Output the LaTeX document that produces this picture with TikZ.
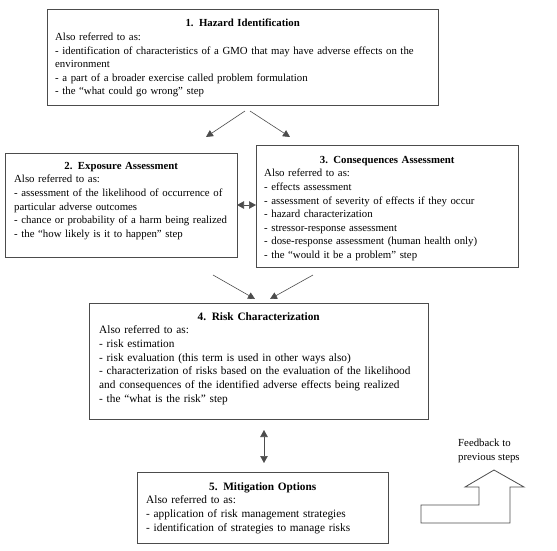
\documentclass[tikz,border=0pt]{standalone}
\usepackage{fontspec}
\setmainfont{Liberation Serif}
\usetikzlibrary{arrows.meta}
\begin{document}
\begin{tikzpicture}[x=1pt,y=-1pt,
 box/.style={draw=black!70, line width=0.8pt, inner sep=0pt, outer sep=0pt, anchor=north west},
 txt/.style={anchor=north west, inner sep=0pt, align=left, font=\fontsize{10.8}{13.6}\selectfont},
 txtb/.style={txt, font=\fontsize{11.3}{13.7}\selectfont},
 arr/.style={draw=black!70, line width=0.6pt, -{Triangle[length=7pt,width=7pt]}},
 darr/.style={draw=black!70, line width=0.6pt, {Triangle[length=7pt,width=7.5pt]}-{Triangle[length=7pt,width=7.5pt]}},
 fb/.style={draw=black!70, line width=0.8pt}]
\useasboundingbox (0,0) rectangle (557,550);
% boxes
\node[box, minimum width=391pt, minimum height=96pt] (b1) at (47,9) {};
\node[box, minimum width=232pt, minimum height=104pt] (b2) at (5,153) {};
\node[box, minimum width=262pt, minimum height=122pt] (b3) at (256,145) {};
\node[box, minimum width=339pt, minimum height=116pt] (b4) at (89,303) {};
\node[box, minimum width=251pt, minimum height=71pt] (b5) at (137,472) {};
% texts
\node[txt, text width=375pt] (t1) at (55,19) {{\centering\textbf{1. Hazard Identification}\par}
Also referred to as:\\
- identification of characteristics of a GMO that may have adverse effects on the\\
environment\\
- a part of a broader exercise called problem formulation\\
- the “what could go wrong” step};
\node[txt, text width=214pt] (t2) at (14,162) {{\centering\textbf{2. Exposure Assessment}\par}
Also referred to as:\\
- assessment of the likelihood of occurrence of\\
particular adverse outcomes\\
- chance or probability of a harm being realized\\
- the “how likely is it to happen” step};
\node[txt, text width=246pt] (t3) at (264,156) {{\centering\textbf{3. Consequences Assessment}\par}
Also referred to as:\\
- effects assessment\\
- assessment of severity of effects if they occur\\
- hazard characterization\\
- stressor-response assessment\\
- dose-response assessment (human health only)\\
- the “would it be a problem” step};
\node[txtb, text width=319pt] (t4) at (99,312) {{\centering\textbf{4. Risk Characterization}\par}
Also referred to as:\\
- risk estimation\\
- risk evaluation (this term is used in other ways also)\\
- characterization of risks based on the evaluation of the likelihood\\
and consequences of the identified adverse effects being realized\\
- the “what is the risk” step};
\node[txtb, text width=233pt] (t5) at (146,482) {{\centering\textbf{5. Mitigation Options}\par}
Also referred to as:\\
- application of risk management strategies\\
- identification of strategies to manage risks};
\node[txt] (fbt) at (458,439) {Feedback to\\previous steps};
% connectors
\coordinate (p1) at (245,111); \coordinate (p2) at (206,137);
\coordinate (p3) at (250,111); \coordinate (p4) at (290,137);
\draw[arr] (p1) -- (p2);
\draw[arr] (p3) -- (p4);
\draw[darr] (b2.east) -- (b3.west |- b2.east);
\coordinate (q1) at (213,275); \coordinate (q2) at (255,299);
\coordinate (q3) at (313,275); \coordinate (q4) at (270,299);
\draw[arr] (q1) -- (q2);
\draw[arr] (q3) -- (q4);
\coordinate (r1) at (264,430); \coordinate (r2) at (264,463);
\draw[darr] (r1) -- (r2);
% feedback arrow
\draw[fb] (421,505) -- (421,523) -- (510,523) -- (510,487) -- (524,487) -- (494,470) -- (465,487) -- (479,487) -- (479,505) -- cycle;
\end{tikzpicture}
\end{document}
